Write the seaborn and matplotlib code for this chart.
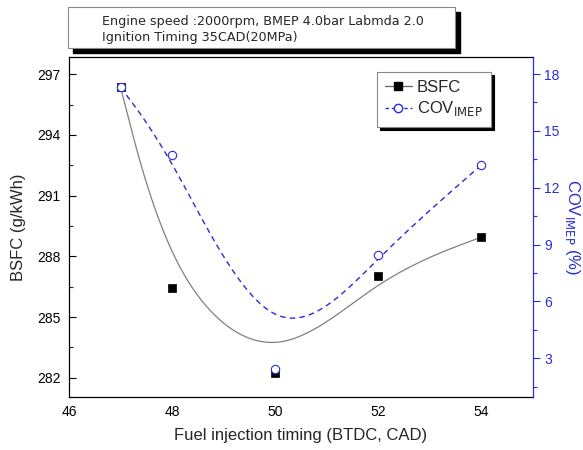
import numpy as np
import pandas as pd
import matplotlib
matplotlib.use("Agg")
import matplotlib.pyplot as plt
from matplotlib.patches import Rectangle
from matplotlib.lines import Line2D
from matplotlib.ticker import MultipleLocator
import seaborn as sns

# ---- data ----
timing = [47, 48, 50, 52, 54]
bsfc = [296.35, 286.45, 282.25, 287.05, 288.95]
cov_imep = [17.3, 13.7, 2.45, 8.45, 13.2]

x_ticks = [46, 48, 50, 52, 54]
bsfc_ticks = [282, 285, 288, 291, 294, 297]
cov_ticks = [3, 6, 9, 12, 15, 18]

title_lines = ["Engine speed :2000rpm, BMEP 4.0bar Labmda 2.0",
               "Ignition Timing 35CAD(20MPa)"]


def bspline(px, py, n_seg=60):
    """Uniform cubic B-spline using the data as control points,
    end points tripled so the curve starts/ends on them."""
    px = np.asarray(px, float); py = np.asarray(py, float)
    qx = np.concatenate([[px[0]] * 2, px, [px[-1]] * 2])
    qy = np.concatenate([[py[0]] * 2, py, [py[-1]] * 2])
    t = np.linspace(0, 1, n_seg)
    b0 = (1 - t) ** 3 / 6
    b1 = (3 * t ** 3 - 6 * t ** 2 + 4) / 6
    b2 = (-3 * t ** 3 + 3 * t ** 2 + 3 * t + 1) / 6
    b3 = t ** 3 / 6
    xs, ys = [], []
    for i in range(len(qx) - 3):
        xs.append(b0 * qx[i] + b1 * qx[i + 1] + b2 * qx[i + 2] + b3 * qx[i + 3])
        ys.append(b0 * qy[i] + b1 * qy[i + 1] + b2 * qy[i + 2] + b3 * qy[i + 3])
    return np.concatenate(xs), np.concatenate(ys)


sns.set_style("white")
plt.rcParams['font.family'] = ['Liberation Sans', 'DejaVu Sans']

fig = plt.figure(figsize=(5.83, 4.5), dpi=100)
ax = fig.add_axes([69 / 583, 53 / 450, 464 / 583, 340 / 450])
ax2 = ax.twinx()

blue = "#2b2bd9"

bx, by = bspline(timing, bsfc)
cx, cy = bspline(timing, cov_imep)
df_b = pd.DataFrame({"x": bx, "y": by})
df_c = pd.DataFrame({"x": cx, "y": cy})
pts = pd.DataFrame({"x": timing, "bsfc": bsfc, "cov": cov_imep})

sns.lineplot(data=df_b, x="x", y="y", sort=False, estimator=None, ax=ax,
             color="#808080", lw=0.9)
sns.scatterplot(data=pts, x="x", y="bsfc", ax=ax, marker="s", color="black",
                s=30, edgecolor="black", linewidth=0.5, zorder=5)
sns.lineplot(data=df_c, x="x", y="y", sort=False, estimator=None, ax=ax2,
             color=blue, lw=1.0)
ax2.lines[-1].set_linestyle((0, (4, 3)))
sns.scatterplot(data=pts, x="x", y="cov", ax=ax2, marker="o", facecolor="white",
                edgecolor=blue, s=36, linewidth=0.8, zorder=6)

ax.set_xlim(46, 55)
ax.set_ylim(281.05, 297.85)
ax2.set_ylim(0.95, 18.9)

ax.set_xticks(x_ticks)
ax.set_xticklabels([str(v) for v in x_ticks])
ax.set_yticks(bsfc_ticks)
ax.set_yticklabels([str(v) for v in bsfc_ticks])
ax2.set_yticks(cov_ticks)
ax2.set_yticklabels([str(v) for v in cov_ticks])
ax.xaxis.set_minor_locator(MultipleLocator(1))
ax.yaxis.set_minor_locator(MultipleLocator(1.5))
ax2.yaxis.set_minor_locator(MultipleLocator(1.5))

ax.tick_params(axis="both", which="major", direction="in", length=5, width=0.8,
               labelsize=10, colors="black", pad=6)
ax.tick_params(axis="both", which="minor", direction="in", length=3, width=0.8)
ax.tick_params(axis="y", right=False)
ax2.tick_params(axis="y", which="major", direction="out", length=5, width=0.8,
                colors=blue, labelsize=10, labelcolor=blue, pad=3)
ax2.tick_params(axis="y", which="minor", direction="out", length=3, width=0.8,
                colors=blue)

for s in ["left", "bottom", "top"]:
    ax.spines[s].set_color("black")
    ax.spines[s].set_linewidth(0.9)
    ax2.spines[s].set_visible(False)
ax2.spines["right"].set_color(blue)
ax2.spines["right"].set_linewidth(0.9)
ax.spines["right"].set_visible(False)

ax.set_xlabel("Fuel injection timing (BTDC, CAD)", fontsize=12, labelpad=6)
ax.set_ylabel("BSFC (g/kWh)", fontsize=12, labelpad=8)
ax2.set_ylabel(r"COV$_{\mathrm{IMEP}}$ (%)", fontsize=12, color=blue,
               rotation=270, labelpad=16)

handles = [
    Line2D([0], [0], color="#606060", lw=0.9, marker="s", markersize=5.5,
           markerfacecolor="black", markeredgecolor="black"),
    Line2D([0], [0], color=blue, lw=1.0, linestyle=(0, (2.5, 2)), marker="o",
           markersize=6, markerfacecolor="white", markeredgecolor=blue),
]
leg = ax.legend(handles, ["BSFC", r"COV$_{\mathrm{IMEP}}$"], loc="upper right",
                bbox_to_anchor=(0.909, 0.956), fontsize=12, frameon=True,
                fancybox=False, shadow={"color": "black", "alpha": 1},
                edgecolor="#888888", handlelength=1.6, borderpad=0.5,
                labelspacing=0.25, handletextpad=0.3, borderaxespad=0)
leg.get_frame().set_linewidth(0.8)

# title box with shadow (figure pixel coordinates)
W, H = 583, 450
bx0, by0, bw, bh = 68, 402, 387, 41
fig.patches.append(Rectangle(((bx0 + 5) / W, (by0 - 5) / H), bw / W, bh / H,
                             transform=fig.transFigure, facecolor="black",
                             edgecolor="black", zorder=1))
fig.patches.append(Rectangle((bx0 / W, by0 / H), bw / W, bh / H,
                             transform=fig.transFigure, facecolor="white",
                             edgecolor="#888888", lw=0.8, zorder=2))
fig.text(102 / W, 428 / H, title_lines[0], fontsize=9.2, va="center",
         ha="left", family=["DejaVu Sans"], zorder=3)
fig.text(102 / W, 413 / H, title_lines[1], fontsize=9.2, va="center",
         ha="left", family=["DejaVu Sans"], zorder=3)

fig.savefig("out.png", dpi=100)
